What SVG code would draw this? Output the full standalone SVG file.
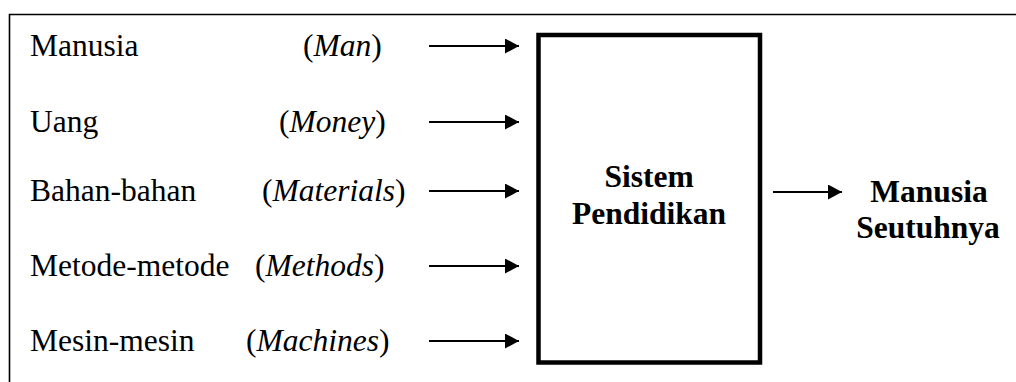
<svg xmlns="http://www.w3.org/2000/svg" width="1016" height="382" viewBox="0 0 1016 382">
<style>
.t{font-family:"Liberation Serif","Times New Roman",serif;font-size:31.5px;fill:#000}
.i{font-style:italic}
.b{font-weight:bold}
.ln{stroke:#000;stroke-width:1.8;fill:none}
</style>
<defs>
<marker id="ah" markerUnits="userSpaceOnUse" markerWidth="16" markerHeight="16" refX="14" refY="7.5" orient="auto">
<path d="M0,0 L14,7.5 L0,15 Z" fill="#000"/>
</marker>
</defs>
<rect width="1016" height="382" fill="#fff"/>
<path d="M9.5,382 V14.5 H1016" stroke="#000" stroke-width="1.6" fill="none"/>
<g id="inputs">
<g id="in-man"><text class="t" x="30" y="56">Manusia</text><text class="t" x="303" y="56">(<tspan class="i">Man</tspan>)</text></g>
<g id="in-money"><text class="t" x="30" y="132">Uang</text><text class="t" x="279" y="132">(<tspan class="i">Money</tspan>)</text></g>
<g id="in-materials"><text class="t" x="30" y="201">Bahan-bahan</text><text class="t" x="262" y="201">(<tspan class="i">Materials</tspan>)</text></g>
<g id="in-methods"><text class="t" x="30" y="276">Metode-metode</text><text class="t" x="255" y="276">(<tspan class="i">Methods</tspan>)</text></g>
<g id="in-machines"><text class="t" x="30" y="351">Mesin-mesin</text><text class="t" x="246" y="351">(<tspan class="i">Machines</tspan>)</text></g>
</g>
<g id="system">
<rect x="538.5" y="35" width="221.5" height="327.5" fill="none" stroke="#000" stroke-width="4.5"/>
<text class="t b" x="649" y="187" text-anchor="middle">Sistem</text>
<text class="t b" x="649" y="224" text-anchor="middle">Pendidikan</text>
</g>
<g id="output">
<text class="t b" x="929" y="202" text-anchor="middle">Manusia</text>
<text class="t b" x="928" y="238" text-anchor="middle">Seutuhnya</text>
</g>
<g id="connectors">
<line class="ln" x1="429" y1="46" x2="519" y2="46" marker-end="url(#ah)"/>
<line class="ln" x1="429" y1="122" x2="519" y2="122" marker-end="url(#ah)"/>
<line class="ln" x1="429" y1="191" x2="519" y2="191" marker-end="url(#ah)"/>
<line class="ln" x1="429" y1="266" x2="519" y2="266" marker-end="url(#ah)"/>
<line class="ln" x1="429" y1="341" x2="519" y2="341" marker-end="url(#ah)"/>
<line class="ln" x1="773" y1="192" x2="842" y2="192" marker-end="url(#ah)"/>
</g>
</svg>
